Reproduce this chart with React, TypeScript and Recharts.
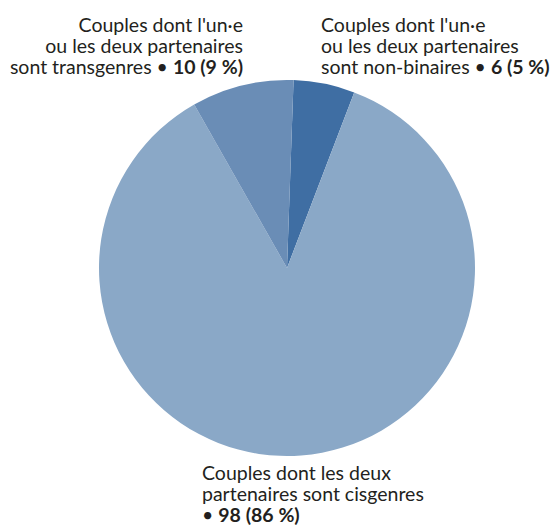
import { PieChart, Pie, Cell } from 'recharts'

const categories = ['non-binaires', 'cisgenres', 'transgenres']
const counts = [6, 98, 10]
const percents = [5, 86, 9]
const labelLines = [
  ["Couples dont l'un·e", 'ou les deux partenaires', 'sont non-binaires • '],
  ['Couples dont les deux', 'partenaires sont cisgenres', '• '],
  ["Couples dont l'un·e", 'ou les deux partenaires', 'sont transgenres • '],
]
const colors = ['#3f6ea3', '#8aa8c7', '#6a8db6']

const data = categories.map((name, i) => ({ name, value: counts[i], pct: percents[i] }))

const FONT = 'Lato, sans-serif'
const FONT_SIZE = 19.5
const LINE_H = 21

function renderLabel(props: any) {
  const { cx, cy, index } = props
  const lines = labelLines[index]
  const d = data[index]
  let x = cx + 34
  let y = cy - 236
  let anchor: 'start' | 'end' = 'start'
  if (index === 1) {
    x = cx - 85
    y = cy + 212
  } else if (index === 2) {
    x = cx - 44
    anchor = 'end'
  }
  return (
    <text
      key={`lbl-${index}`}
      x={x}
      y={y}
      textAnchor={anchor}
      fill="#231f20"
      fontFamily={FONT}
      fontSize={FONT_SIZE}
    >
      {lines.map((line, i) => (
        <tspan key={i} x={x} y={y + i * LINE_H}>
          {line}
          {i === lines.length - 1 && (
            <tspan fontWeight="bold">{`${d.value} (${d.pct} %)`}</tspan>
          )}
        </tspan>
      ))}
    </text>
  )
}

export default function App() {
  return (
    <div style={{ position: 'absolute', left: 0, top: 0, background: '#fff' }}>
      <PieChart width={554} height={527} margin={{ top: 0, right: 0, bottom: 0, left: 0 }}>
        <Pie
          data={data}
          dataKey="value"
          nameKey="name"
          cx={287}
          cy={268}
          outerRadius={188}
          startAngle={88}
          endAngle={-272}
          stroke="none"
          label={renderLabel}
          labelLine={false}
          isAnimationActive={false}
        >
          {data.map((entry, index) => (
            <Cell key={entry.name} fill={colors[index]} />
          ))}
        </Pie>
      </PieChart>
    </div>
  )
}
